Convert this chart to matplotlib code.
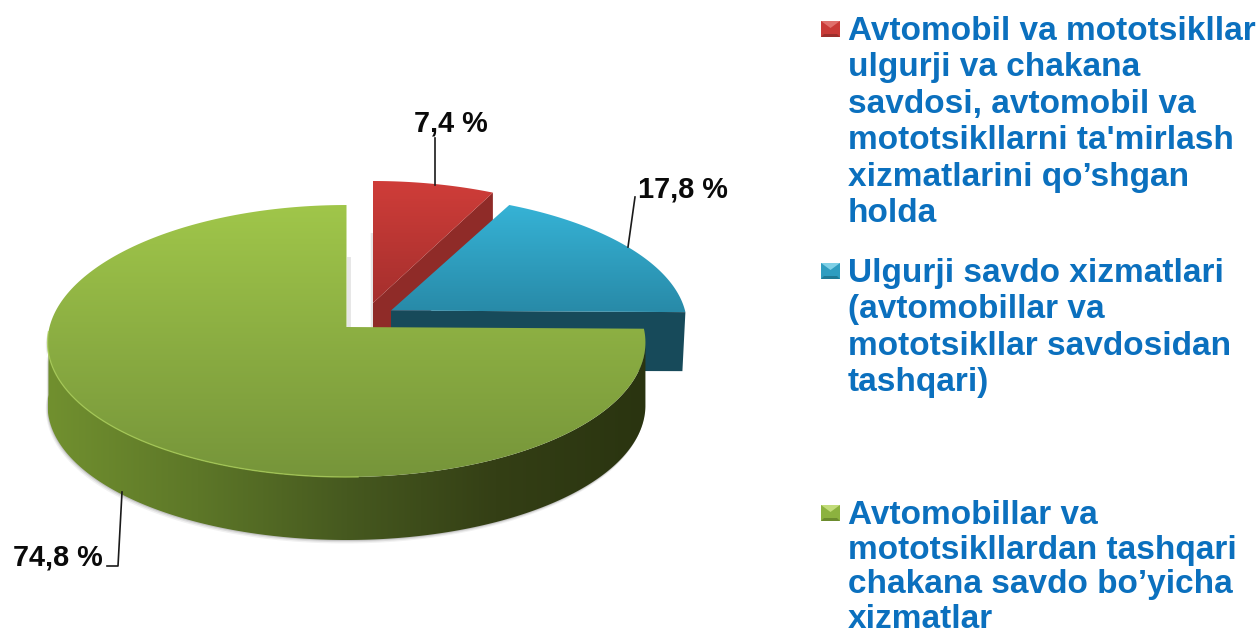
import numpy as np
import matplotlib
matplotlib.use("Agg")
import matplotlib.pyplot as plt
from matplotlib.colors import LinearSegmentedColormap
from matplotlib.patches import Polygon

plt.rcParams['font.family'] = ['Liberation Sans', 'DejaVu Sans']

# ---- data ----
shares = [7.4, 17.8, 74.8]
value_labels = ['7,4 %', '17,8 %', '74,8 %']
legend_lines = [
    ['Avtomobil va mototsikllar', 'ulgurji va chakana', 'savdosi, avtomobil va',
     "mototsikllarni ta'mirlash", 'xizmatlarini qo’shgan', 'holda'],
    ['Ulgurji savdo xizmatlari', '(avtomobillar va', 'mototsikllar savdosidan',
     'tashqari)'],
    ['Avtomobillar va', 'mototsikllardan tashqari', 'chakana savdo bo’yicha',
     'xizmatlar'],
]

# ---- style / layout (pixel space) ----
W, H = 1260, 634
apex = [(373, 303), (391, 310.5), (346.5, 327)]
RX = [298, 294, 297]
RY = [136, 130, 136]
KX, KY, DEPTH = 0.115, 0.103, 61
top_grad = [('#cf3d39', '#a52f2d'), ('#36b3d6', '#288aa8'), ('#a0c64a', '#76953a')]
side_col = ['#8f2b28', '#174a5a']
green_wall = ['#71902f', '#5d7728', '#46591f', '#343f15', '#2a3410']
label_pos = [(450.5, 123.5), (683, 189), (57.5, 557)]
legend_base = [40, 282, 524]
legend_step = [36.4, 36.4, 34.5]
marker_colors = [('#c93a37', '#e0706c', '#9c2f2c'),
                 ('#2f9dc0', '#7fd0e6', '#1f7a96'),
                 ('#8cb23f', '#c2dc7a', '#6c8c2e')]
leaders = [[(435, 138), (435, 185)],
           [(635, 197), (628, 247)],
           [(122, 492), (118, 566), (107, 566)]]

fig = plt.figure(figsize=(W / 100, H / 100), dpi=100)
ax = fig.add_axes([0, 0, 1, 1])
ax.set_axis_off()


def project(t, i, dy=0.0):
    """Perspective projection of slice i's rim at clockwise angle t (radians)."""
    s, co = np.sin(t), np.cos(t)
    x = apex[i][0] + RX[i] * s * (1 - KX * co)
    y = apex[i][1] - RY[i] * co * (1 - KY * co) + dy
    return np.column_stack([x, y])


def grad_fill(verts, colors, vertical=True, z=1):
    verts = np.asarray(verts)
    x0, y0 = verts.min(axis=0)
    x1, y1 = verts.max(axis=0)
    cmap = LinearSegmentedColormap.from_list('g', colors)
    g = np.linspace(0, 1, 256)
    arr = g[:, None] if vertical else g[None, :]
    im = ax.imshow(arr, cmap=cmap, extent=(x0, x1, y1, y0), aspect='auto',
                   origin='upper', zorder=z, interpolation='bilinear')
    p = Polygon(verts, closed=True, facecolor='none', edgecolor='none',
                transform=ax.transData)
    ax.add_patch(p)
    im.set_clip_path(p)


# slice angles from the values (clockwise from 12 o'clock)
edges = np.cumsum([0] + shares) / 100 * 2 * np.pi
tops = []
for i in range(3):
    t = np.linspace(edges[i], edges[i + 1], 240)
    tops.append(np.vstack([[apex[i]], project(t, i)]))

# soft shadows beside the flat cut faces
for x, y0, y1, w in [(349, 257, 327, 4), (371.5, 233, 327, 2.5)]:
    ax.plot([x, x], [y0, y1], color='#b8b8b8', lw=w * 0.7, alpha=0.35, zorder=1,
            solid_capstyle='butt')

# red slice: cut wall then top
end = project(np.array([edges[1]]), 0)[0]
ax.add_patch(Polygon([apex[0], end, end + [0, DEPTH], np.array(apex[0]) + [0, DEPTH]],
                     closed=True, facecolor=side_col[0], edgecolor='none', zorder=2))
grad_fill(tops[0], top_grad[0], z=3)

# blue slice: cut wall then top
end = project(np.array([edges[2]]), 1)[0]
ax.add_patch(Polygon([apex[1], end, end + [-3, DEPTH - 2], np.array(apex[1]) + [0, DEPTH - 1]],
                     closed=True, facecolor=side_col[1], edgecolor='none', zorder=4))
grad_fill(tops[1], top_grad[1], z=5)

# green slice: soft shadow, outer wall, top
t_wall = np.linspace(np.radians(96), np.radians(268), 240)
upper = project(t_wall, 2)
lower = project(t_wall, 2, DEPTH + 2)
wall = np.vstack([upper, lower[::-1]])
for off, a in [(3.5, 0.10), (2.2, 0.16), (1.0, 0.25)]:
    ax.add_patch(Polygon(wall + [-off * 0.5, off], closed=True, facecolor='#777777',
                         edgecolor='none', alpha=a, zorder=5.5))
grad_fill(wall, green_wall, vertical=False, z=6)
grad_fill(tops[2], top_grad[2], z=7)
rim = project(np.linspace(np.radians(178), np.radians(268), 160), 2)
ax.plot(rim[:, 0], rim[:, 1], color='#a6ca55', lw=1.0, alpha=0.8, zorder=8)

# leader lines and value labels
for pts, (x, y), lab in zip(leaders, label_pos, value_labels):
    pts = np.array(pts)
    ax.plot(pts[:, 0], pts[:, 1], color='#1a1a1a', lw=1.2, zorder=9)
    ax.text(x, y, lab, ha='center', va='center', fontsize=20.8, fontweight='bold',
            color='#0a0a0a', zorder=10)

# legend
for y0, step, lines, (base, light, dark) in zip(legend_base, legend_step, legend_lines,
                                                marker_colors):
    mx0, mx1, my0, my1 = 821, 840, y0 - 19, y0 - 3
    ax.add_patch(Polygon([(mx0, my0), (mx1, my0), (mx1, my1), (mx0, my1)], closed=True,
                         facecolor=base, edgecolor='none', zorder=9))
    ax.add_patch(Polygon([(mx0, my0), (mx1, my0), ((mx0 + mx1) / 2, my0 + 7)],
                         closed=True, facecolor=light, edgecolor='none', zorder=10))
    ax.add_patch(Polygon([(mx0, my1), (mx1, my1), (mx1 - 3, my1 - 3), (mx0 + 3, my1 - 3)],
                         closed=True, facecolor=dark, edgecolor='none', zorder=10))
    for j, line in enumerate(lines):
        ax.text(848, y0 + j * step, line, ha='left', va='baseline', fontsize=24.0,
                fontweight='bold', color='#0b70be', zorder=10)

ax.set_xlim(0, W)
ax.set_ylim(H, 0)
fig.savefig('out.png', dpi=100, facecolor='white')
